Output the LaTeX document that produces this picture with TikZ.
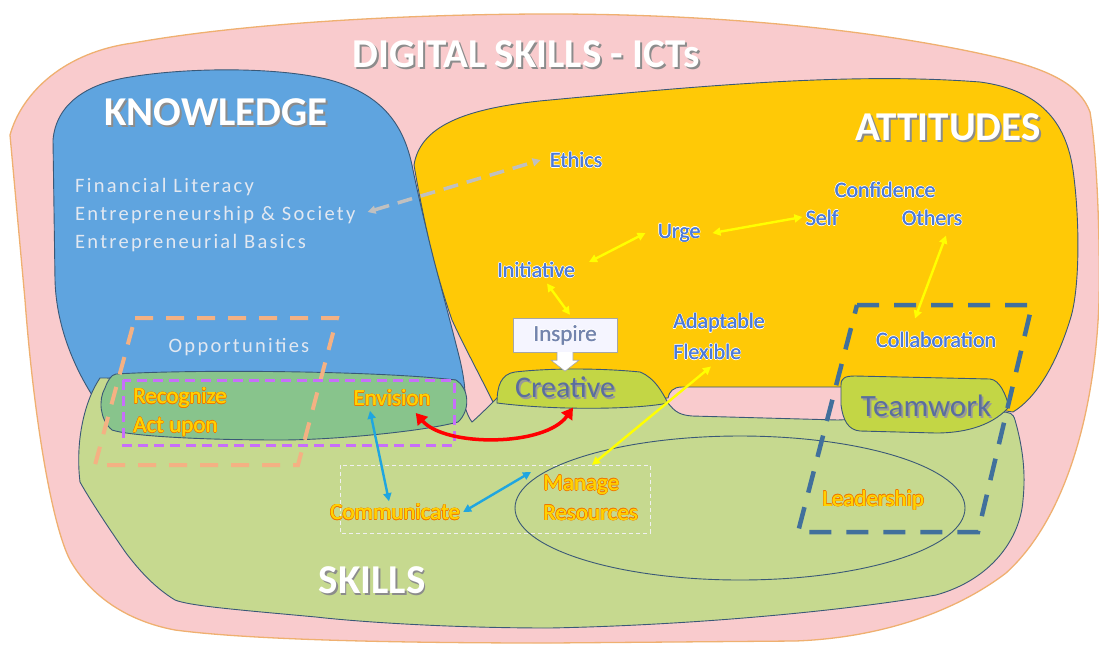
\documentclass[tikz,border=0pt]{standalone}
\usepackage{fontspec}
\setmainfont{Carlito}
\newfontfamily\spaced[LetterSpace=11]{Carlito}
\usetikzlibrary{arrows.meta,calc}
\definecolor{pinkbg}{HTML}{F9CBCD}
\definecolor{pinkedge}{HTML}{EFB070}
\definecolor{kblue}{HTML}{5FA4DF}
\definecolor{ayellow}{HTML}{FFC906}
\definecolor{sgreen}{HTML}{C6D98F}
\definecolor{lensgreen}{HTML}{88C48C}
\definecolor{bumpgreen}{HTML}{C3D645}
\definecolor{edgeblue}{HTML}{3A5877}
\definecolor{attblue}{HTML}{4C7AD8}
\definecolor{bumptext}{HTML}{5A6E9E}
\definecolor{ktext}{HTML}{E2E8F1}
\definecolor{sfill}{HTML}{FFD200}
\definecolor{sout}{HTML}{F07800}
\definecolor{arryellow}{HTML}{FFFF00}
\definecolor{arrcyan}{HTML}{1FA6E0}
\definecolor{arrgray}{HTML}{C0C0C0}
\definecolor{oppor}{HTML}{F4B183}
\definecolor{purp}{HTML}{C86EFA}
\definecolor{teamdash}{HTML}{41709C}
\newcommand\shc[3]{\makebox[0pt][l]{\hspace*{#1}\raisebox{#2}{#3}}}
\newdimen\oltd
\newcommand\olt[3]{{\oltd=#2\relax\color{#1}%
\shc{\oltd}{0pt}{#3}\shc{-\oltd}{0pt}{#3}\shc{0pt}{\oltd}{#3}\shc{0pt}{-\oltd}{#3}%
\shc{.7\oltd}{.7\oltd}{#3}\shc{-.7\oltd}{.7\oltd}{#3}\shc{.7\oltd}{-.7\oltd}{#3}\shc{-.7\oltd}{-.7\oltd}{#3}%
\shc{\dimexpr\oltd+.4pt\relax}{0pt}{#3}}\shc{.4pt}{0pt}{#3}#3}
\newcommand\shadowed[2]{{\color{#1}\shc{1.8pt}{-1.8pt}{#2}}#2}
\begin{document}
\begin{tikzpicture}[x=1pt,y=-1pt,
  shapeline/.style={draw=edgeblue, line width=0.9pt},
  bigtitle/.style={text=white, font=\bfseries\fontsize{41}{41}\selectfont, inner sep=0pt},
  kitem/.style={text=ktext, font=\spaced\fontsize{20.5}{20.5}\selectfont, inner sep=0pt, anchor=west},
  aitem/.style={text=attblue, font=\fontsize{22}{22}\selectfont, inner sep=0pt},
  sitem/.style={text=sfill, font=\fontsize{23}{23}\selectfont, inner sep=0pt},
  bumplabel/.style={text=bumptext, inner sep=0pt},
  tipy/.tip={Triangle[length=8pt,width=8pt]},
  yarr/.style={draw=arryellow, line width=2.4pt, tipy-tipy},
  carr/.style={draw=arrcyan, line width=2.4pt, tipy-tipy},
  garr/.style={draw=arrgray, line width=3.5pt, dash pattern=on 15pt off 9pt, tipy-tipy},
  rarr/.style={draw=red, line width=3.5pt, {Triangle[length=11pt,width=13pt]}-{Triangle[length=11pt,width=13pt]}}
]
\useasboundingbox (0,0) rectangle (1099,646);
% outer pink shape
\path[fill=pinkbg, draw=pinkedge, line width=1.3pt]
 (10,135) .. controls (22,92) and (65,52) .. (133,43)
 .. controls (250,22) and (420,14) .. (550,14)
 .. controls (720,14) and (880,30) .. (1000,58)
 .. controls (1050,70) and (1080,85) .. (1090,112)
 .. controls (1098,160) and (1100,250) .. (1099,300)
 .. controls (1096,400) and (1070,515) .. (1006,573)
 .. controls (955,612) and (880,638) .. (795,641)
 -- (550,643)
 .. controls (400,643) and (250,640) .. (175,630)
 .. controls (122,620) and (88,592) .. (70,560)
 .. controls (52,525) and (34,420) .. (25,300) -- cycle;
% knowledge (blue)
\path[fill=kblue, shapeline]
 (53,140) .. controls (56,105) and (85,84) .. (130,77)
 .. controls (190,67) and (280,67) .. (330,80)
 .. controls (385,95) and (404,128) .. (412,165)
 .. controls (425,230) and (445,300) .. (460,360)
 .. controls (468,395) and (468,420) .. (450,430)
 -- (120,440)
 .. controls (100,430) and (96,412) .. (92,395)
 .. controls (70,360) and (56,320) .. (55,280) -- cycle;
% attitudes (yellow)
\path[fill=ayellow, shapeline]
 (414,165) .. controls (420,128) and (460,108) .. (550,100)
 .. controls (700,86) and (850,72) .. (980,82)
 .. controls (1040,90) and (1066,122) .. (1073,170)
 .. controls (1080,220) and (1080,290) .. (1070,320)
 .. controls (1056,365) and (1036,398) .. (1013,412)
 -- (845,387) -- (682,387)
 .. controls (673,387) and (669,392) .. (668,398)
 -- (493,402)
 .. controls (478,372) and (462,342) .. (452,320)
 .. controls (438,280) and (425,230) .. (414,165) -- cycle;
% skills (green)
\path[fill=sgreen, shapeline]
 (100,378) -- (455,380)
 .. controls (462,395) and (466,415) .. (472,422)
 .. controls (480,415) and (490,405) .. (497,398)
 -- (668,403)
 .. controls (675,412) and (680,415) .. (692,416)
 -- (838,420) -- (1000,412)
 .. controls (1010,412) and (1013,413) .. (1015,420)
 .. controls (1025,455) and (1025,480) .. (1023,500)
 .. controls (1020,540) and (990,580) .. (936,595)
 .. controls (850,610) and (700,625) .. (550,628)
 .. controls (450,628) and (360,622) .. (316,617)
 .. controls (240,610) and (190,606) .. (175,600)
 .. controls (152,586) and (136,566) .. (126,553)
 .. controls (110,530) and (90,500) .. (80,482)
 .. controls (75,440) and (85,400) .. (100,378) -- cycle;
% overlap lens
\path[fill=lensgreen, shapeline]
 (116,374) .. controls (200,369) and (380,371) .. (456,380)
 .. controls (469,388) and (471,410) .. (458,422)
 .. controls (420,432) and (330,440) .. (281,440)
 .. controls (200,440) and (130,436) .. (112,430)
 .. controls (100,420) and (98,400) .. (105,388)
 .. controls (108,380) and (111,375) .. (116,374) -- cycle;
% creative bump
\path[fill=bumpgreen, shapeline]
 (497,403) .. controls (497,386) and (501,374) .. (515,372)
 .. controls (550,368) and (600,368) .. (640,372)
 .. controls (655,378) and (662,392) .. (668,403)
 .. controls (640,409) and (560,411) .. (497,403) -- cycle;
% teamwork bump
\path[fill=bumpgreen, shapeline]
 (841,385) .. controls (841,378) and (845,376) .. (855,376)
 -- (990,379)
 .. controls (1000,380) and (1006,395) .. (1009,407)
 .. controls (990,428) and (960,433) .. (936,433)
 -- (860,431)
 .. controls (848,430) and (843,420) .. (841,405) -- cycle;
% ellipse
\draw[edgeblue, line width=0.9pt] (740,508) ellipse [x radius=225, y radius=72];
% light dashed rectangle
\draw[white!88!gray, line width=0.8pt, dash pattern=on 4pt off 3pt] (340,465) rectangle (650,533);
% dashed frames
\draw[oppor, line width=4pt, dash pattern=on 18pt off 13pt] (135,318) -- (337,318) -- (298,465) -- (95,465) -- cycle;
\draw[purp, line width=3pt, dash pattern=on 10pt off 6pt] (123,380) rectangle (454,445);
\draw[teamdash, line width=4.5pt, dash pattern=on 22pt off 15pt] (857,305) -- (1032,305) -- (978,532) -- (798,532) -- cycle;

% titles
\node[bigtitle] (title) at (526,55) {\shadowed{black!45}{DIGITAL SKILLS - ICTs}};
\node[bigtitle] (know) at (216,113) {\shadowed{black!45}{KNOWLEDGE}};
\node[bigtitle] (att) at (948,128) {\shadowed{black!45}{ATTITUDES}};
\node[bigtitle] (skills) at (372,581) {\shadowed{black!45}{SKILLS}};

% knowledge items
\node[kitem] (fin) at (75,187) {Financial Literacy};
\node[kitem] (soc) at (75,215) {Entrepreneurship \& Society};
\node[kitem] (basics) at (75,243) {Entrepreneurial Basics};
\node[kitem, anchor=center] (opp) at (239,347) {Opportunities};

% attitude items
\node[aitem] (ethics) at (576,160) {\olt{white}{0.6pt}{Ethics}};
\node[aitem] (conf) at (885,190) {\olt{white}{0.6pt}{Confidence}};
\node[aitem] (self) at (822,218) {\olt{white}{0.6pt}{Self}};
\node[aitem] (others) at (932,218) {\olt{white}{0.6pt}{Others}};
\node[aitem] (urge) at (679,233) {\olt{white}{0.6pt}{Urge}};
\node[aitem] (init) at (536,270) {\olt{white}{0.6pt}{Initiative}};
\node[aitem, anchor=west] (adapt) at (673,323) {\olt{white}{0.6pt}{Adaptable}};
\node[aitem, anchor=west] (flex) at (673,352) {\olt{white}{0.6pt}{Flexible}};
\node[aitem] (collab) at (936,340) {\olt{white}{0.6pt}{Collaboration}};

% inspire box and block arrow
\node[draw=gray!70, fill=white!96!blue, minimum width=104pt, minimum height=34pt, inner sep=0pt,
      text=bumptext!85, font=\fontsize{23}{23}\selectfont] (insp) at (565,335) {\olt{white}{0.6pt}{Inspire}};
\path[fill=white, draw=gray!70, line width=0.6pt]
 ([xshift=-8pt]insp.south) -- ([xshift=-8pt,yshift=-8pt]insp.south) -- ([xshift=-14pt,yshift=-8pt]insp.south)
 -- ([yshift=-19pt]insp.south) -- ([xshift=14pt,yshift=-8pt]insp.south) -- ([xshift=8pt,yshift=-8pt]insp.south)
 -- ([xshift=8pt]insp.south);

% bump labels
\node[bumplabel, font=\fontsize{30}{30}\selectfont] (creative) at (565,388) {\shadowed{gray!80}{Creative}};
\node[bumplabel, font=\fontsize{31}{31}\selectfont] (team) at (926,407) {\shadowed{gray!80}{Teamwork}};

% skills items
\node[sitem, anchor=west] (recog) at (133,398) {\olt{sout}{0.6pt}{Recognize}};
\node[sitem, anchor=west] (act) at (133,427) {\olt{sout}{0.6pt}{Act upon}};
\node[sitem] (envision) at (392,398) {\olt{sout}{0.6pt}{Envision}};
\node[sitem] (comm) at (395,512) {\olt{sout}{0.6pt}{Communicate}};
\node[sitem, anchor=west] (manage) at (543,485) {\olt{sout}{0.6pt}{Manage}};
\node[sitem, anchor=west] (res) at (543,513) {\olt{sout}{0.6pt}{Resources}};
\node[sitem] (lead) at (873,500) {\olt{sout}{0.6pt}{Leadership}};

% connectors
\draw[garr] ([xshift=12pt,yshift=3pt]soc.east) -- ([xshift=-9pt]ethics.west);
\draw[yarr] ([xshift=14pt,yshift=8pt]init.east) -- ([xshift=-12pt]urge.west);
\draw[yarr] ([xshift=12pt]urge.east) -- ([xshift=-3pt,yshift=1pt]self.west);
\draw[yarr] ([xshift=11pt,yshift=-5pt]init.south) -- ([xshift=5pt,yshift=3pt]insp.north);
\draw[yarr] ([xshift=14pt,yshift=-9pt]others.south) -- ([xshift=-21pt,yshift=13pt]collab.north);
\draw[yarr] ([xshift=38pt,yshift=-6pt]flex.south west) -- ([xshift=49pt,yshift=10pt]manage.north west);
\draw[carr] ([xshift=-22pt,yshift=-4pt]envision.south) -- ([xshift=-6pt,yshift=2pt]comm.north);
\draw[carr] ([xshift=3pt]comm.east) -- ([xshift=-12pt,yshift=13pt]manage.west);
\draw[rarr] ([xshift=-15pt,yshift=-15pt]envision.east) .. controls (445,447) and (545,447) .. ([xshift=8pt,yshift=-8pt]creative.south);
\end{tikzpicture}
\end{document}
